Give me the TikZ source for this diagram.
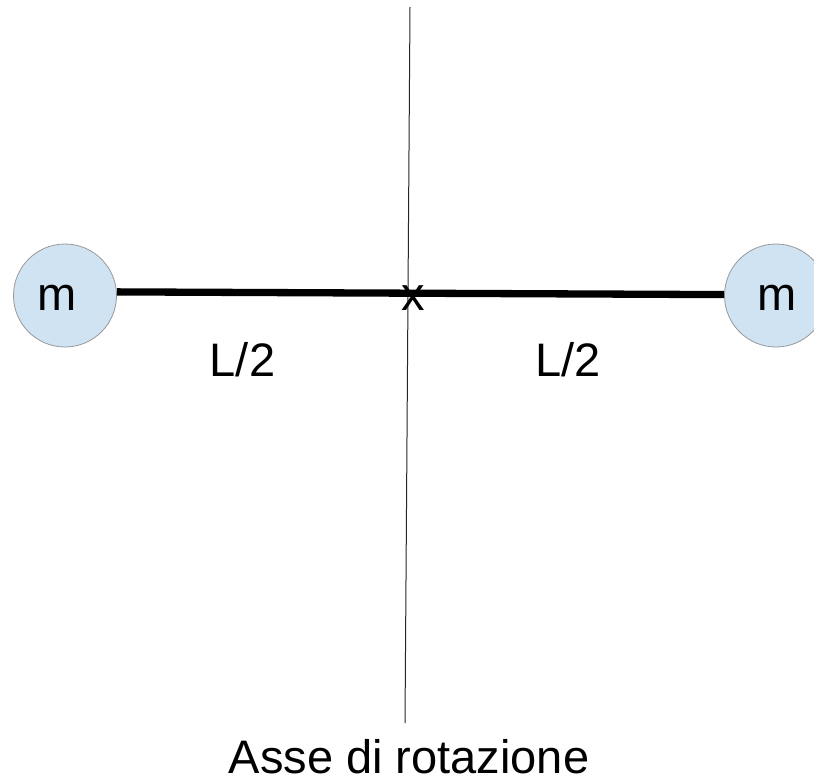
\documentclass[tikz,border=0pt]{standalone}
\usepackage{fontspec}
\setmainfont{Liberation Sans}
\begin{document}
\begin{tikzpicture}[x=1pt,y=-1pt,
  ball/.style={circle,draw=gray!80,line width=0.8pt,fill={rgb,255:red,207;green,227;blue,243},minimum size=103pt,inner sep=0pt},
  lbl/.style={anchor=base,inner sep=0pt,font=\fontsize{47}{56}\selectfont},
  rod/.style={line width=7.3pt},
  axisline/.style={line width=1pt,black!85}]
\clip (0,0) rectangle (814,779);
\useasboundingbox (0,0) rectangle (814,779);
\coordinate (top) at (410,7);
\coordinate (bot) at (405,723);
\draw[axisline] (top) -- (bot);
\node[ball] (m1) at (65,295.5) {};
\node[ball] (m2) at (776,295.5) {};
\draw[rod] (m1.4) -- (m2.179.5);
\node[lbl] (t1) at (57.5,310) {m};
\node[lbl] (t2) at (777.5,310) {m};
\node[lbl] (cx) at (413,310) {x};
\node[lbl] (l1) at (242.5,376) {L/2};
\node[lbl] (l2) at (568,376) {L/2};
\node[lbl] (ax) at (409,773) {Asse di rotazione};
\end{tikzpicture}
\end{document}
